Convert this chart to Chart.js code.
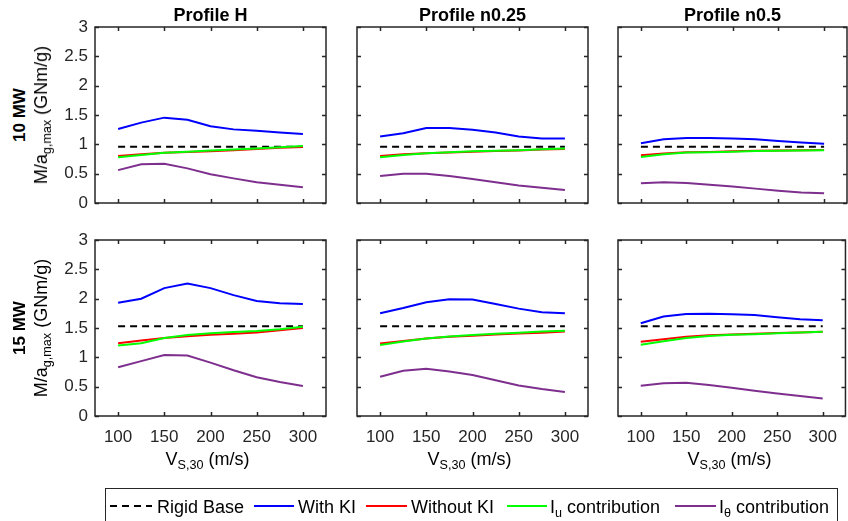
<!DOCTYPE html>
<html><head><meta charset="utf-8">
<script src="https://cdn.jsdelivr.net/npm/chart.js@4.4.1/dist/chart.umd.min.js"></script>
<style>
body{margin:0;background:#fff;}
#fig{position:relative;width:848px;height:521px;overflow:hidden;background:#fff;font-family:"Liberation Sans",Arial,Helvetica,sans-serif;color:#000;}
canvas{position:absolute;}
.t{position:absolute;white-space:nowrap;line-height:20px;font-size:18px;}
.title{font-weight:bold;transform:translateX(-50%);}
.ctr{transform:translateX(-50%);}
.rot{transform:translate(-50%,-50%) rotate(-90deg);}
.bold{font-weight:bold;font-size:17px;}
sub{font-size:70%;vertical-align:baseline;position:relative;top:0.35em;line-height:0;}
#legend{position:absolute;left:105px;top:488px;width:731px;height:44px;border:1.5px solid #262626;background:#fff;}
</style></head>
<body><div id="fig"></div>
<script>
// ---------------- data ----------------
const vs30 = [100, 125, 150, 175, 200, 225, 250, 275, 300];
const xTicks = [100, 150, 200, 250, 300];
const yTicks = [0, 0.5, 1, 1.5, 2, 2.5, 3];

const rowNames = ['10 MW', '15 MW'];
const profileNames = ['Profile H', 'Profile n0.25', 'Profile n0.5'];

// 10 MW
const rigid10H   = [0.96, 0.96, 0.96, 0.96, 0.96, 0.96, 0.96, 0.96, 0.96];
const withKI10H  = [1.26, 1.37, 1.455, 1.42, 1.31, 1.255, 1.23, 1.20, 1.175];
const woKI10H    = [0.80, 0.83, 0.855, 0.87, 0.88, 0.90, 0.92, 0.94, 0.955];
const Iu10H      = [0.78, 0.82, 0.855, 0.875, 0.895, 0.91, 0.93, 0.95, 0.97];
const Ith10H     = [0.56, 0.66, 0.667, 0.59, 0.49, 0.42, 0.355, 0.31, 0.27];

const rigid10n25  = [0.96, 0.96, 0.96, 0.96, 0.96, 0.96, 0.96, 0.96, 0.96];
const withKI10n25 = [1.135, 1.19, 1.28, 1.28, 1.25, 1.20, 1.135, 1.10, 1.10];
const woKI10n25   = [0.80, 0.83, 0.85, 0.86, 0.875, 0.885, 0.895, 0.91, 0.92];
const Iu10n25     = [0.78, 0.82, 0.85, 0.865, 0.88, 0.89, 0.90, 0.915, 0.93];
const Ith10n25    = [0.46, 0.50, 0.50, 0.46, 0.41, 0.355, 0.30, 0.26, 0.22];

const rigid10n5  = [0.96, 0.96, 0.96, 0.96, 0.96, 0.96, 0.96, 0.96, 0.96];
const withKI10n5 = [1.02, 1.085, 1.11, 1.11, 1.10, 1.085, 1.055, 1.03, 1.01];
const woKI10n5   = [0.815, 0.845, 0.865, 0.87, 0.88, 0.89, 0.895, 0.90, 0.905];
const Iu10n5     = [0.785, 0.83, 0.86, 0.865, 0.875, 0.885, 0.89, 0.895, 0.90];
const Ith10n5    = [0.337, 0.354, 0.342, 0.31, 0.28, 0.245, 0.21, 0.18, 0.165];

// 15 MW
const rigid15H   = [1.53, 1.53, 1.53, 1.53, 1.53, 1.53, 1.53, 1.53, 1.53];
const withKI15H  = [1.93, 2.00, 2.18, 2.26, 2.18, 2.06, 1.96, 1.92, 1.91];
const woKI15H    = [1.24, 1.285, 1.33, 1.36, 1.385, 1.40, 1.425, 1.46, 1.50];
const Iu15H      = [1.20, 1.24, 1.33, 1.38, 1.41, 1.43, 1.45, 1.48, 1.52];
const Ith15H     = [0.83, 0.935, 1.04, 1.03, 0.91, 0.78, 0.66, 0.58, 0.51];

const rigid15n25  = [1.53, 1.53, 1.53, 1.53, 1.53, 1.53, 1.53, 1.53, 1.53];
const withKI15n25 = [1.75, 1.84, 1.94, 1.99, 1.985, 1.91, 1.83, 1.77, 1.75];
const woKI15n25   = [1.235, 1.28, 1.32, 1.35, 1.37, 1.39, 1.405, 1.42, 1.44];
const Iu15n25     = [1.21, 1.27, 1.32, 1.355, 1.38, 1.40, 1.42, 1.44, 1.455];
const Ith15n25    = [0.67, 0.77, 0.805, 0.76, 0.70, 0.61, 0.52, 0.46, 0.41];

const rigid15n5  = [1.53, 1.53, 1.53, 1.53, 1.53, 1.53, 1.53, 1.53, 1.53];
const withKI15n5 = [1.58, 1.695, 1.74, 1.745, 1.735, 1.72, 1.685, 1.65, 1.63];
const woKI15n5   = [1.265, 1.31, 1.35, 1.375, 1.39, 1.40, 1.415, 1.425, 1.435];
const Iu15n5     = [1.215, 1.275, 1.33, 1.365, 1.385, 1.395, 1.41, 1.425, 1.435];
const Ith15n5    = [0.516, 0.56, 0.567, 0.53, 0.48, 0.43, 0.385, 0.34, 0.30];

const seriesLabels = ['Rigid Base', 'With KI', 'Without KI', 'I_u contribution', 'I_θ contribution'];
const seriesLegendHTML = ['Rigid Base', 'With KI', 'Without KI', 'I<sub>u</sub> contribution', 'I<sub>θ</sub> contribution'];

// ---------------- styling / layout ----------------
const colors = ['#000000', '#0000ff', '#ff0000', '#00ff00', '#7e2f8e'];
const dashes = [[7, 5], [], [], [], []];
const COLS = [{left: 95, w: 231}, {left: 357, w: 231}, {left: 618, w: 229}];
const ROWS = [{top: 27, h: 176, labels: false}, {top: 240, h: 176, labels: true}];
const YW = 45, PADTOP = 20;
const FONT = '"Liberation Sans", Arial, Helvetica, sans-serif';

const panelData = [
  [[rigid10H, withKI10H, woKI10H, Iu10H, Ith10H],
   [rigid10n25, withKI10n25, woKI10n25, Iu10n25, Ith10n25],
   [rigid10n5, withKI10n5, woKI10n5, Iu10n5, Ith10n5]],
  [[rigid15H, withKI15H, woKI15H, Iu15H, Ith15H],
   [rigid15n25, withKI15n25, woKI15n25, Iu15n25, Ith15n25],
   [rigid15n5, withKI15n5, woKI15n5, Iu15n5, Ith15n5]]
];

const fig = document.getElementById('fig');
function addDiv(html, cls, left, top) {
  const d = document.createElement('div');
  d.className = 't ' + cls;
  d.innerHTML = html;
  d.style.left = left + 'px';
  d.style.top = top + 'px';
  fig.appendChild(d);
  return d;
}

const boxPlugin = {
  id: 'matlabBox',
  afterDatasetsDraw(chart) {
    const {ctx, chartArea: a} = chart;
    const xs = chart.scales.x, ys = chart.scales.y;
    ctx.save();
    ctx.strokeStyle = '#262626';
    ctx.lineWidth = 1.5;
    const L = 4;
    ctx.beginPath();
    xs.ticks.forEach(t => {
      const px = Math.round(xs.getPixelForValue(t.value)) + 0.5;
      ctx.moveTo(px, a.bottom); ctx.lineTo(px, a.bottom - L);
      ctx.moveTo(px, a.top); ctx.lineTo(px, a.top + L);
    });
    ys.ticks.forEach(t => {
      const py = Math.round(ys.getPixelForValue(t.value)) + 0.5;
      ctx.moveTo(a.left, py); ctx.lineTo(a.left + L, py);
      ctx.moveTo(a.right, py); ctx.lineTo(a.right - L, py);
    });
    ctx.stroke();
    ctx.strokeRect(a.left, a.top, a.right - a.left, a.bottom - a.top);
    ctx.restore();
  }
};

Chart.defaults.font.family = FONT;
Chart.defaults.font.size = 17;
Chart.defaults.color = '#262626';

ROWS.forEach((row, r) => {
  COLS.forEach((col, c) => {
    const XH = row.labels ? 40 : 20;
    const rightPad = (c === 2) ? 1 : 3;
    const cv = document.createElement('canvas');
    const W = YW + col.w + rightPad, H = PADTOP + row.h + XH;
    cv.width = W; cv.height = H;
    cv.style.width = W + 'px'; cv.style.height = H + 'px';
    cv.style.left = (col.left - YW) + 'px';
    cv.style.top = (row.top - PADTOP) + 'px';
    fig.appendChild(cv);
    const sets = panelData[r][c];
    new Chart(cv, {
      type: 'line',
      data: {
        datasets: sets.map((vals, k) => ({
          label: seriesLabels[k],
          data: vs30.map((x, i) => ({x: x, y: vals[i]})),
          borderColor: colors[k],
          backgroundColor: colors[k],
          borderDash: dashes[k],
          borderWidth: 2,
          pointRadius: 0,
          tension: 0,
          fill: false,
          order: 5 - k
        }))
      },
      options: {
        responsive: false, animation: false, devicePixelRatio: 1,
        layout: {padding: {top: PADTOP, right: rightPad, left: 0, bottom: 0}},
        plugins: {legend: {display: false}, tooltip: {enabled: false}, title: {display: false}},
        scales: {
          x: {
            type: 'linear', min: 75, max: 325,
            afterBuildTicks: s => { s.ticks = xTicks.map(v => ({value: v})); },
            afterFit: s => { s.height = XH; },
            grid: {display: false, drawTicks: false}, border: {display: false},
            ticks: {display: row.labels, padding: 11, maxRotation: 0, callback: v => String(v)}
          },
          y: {
            type: 'linear', min: 0, max: 3,
            afterBuildTicks: s => { s.ticks = yTicks.map(v => ({value: v})); },
            afterFit: s => { s.width = YW; },
            grid: {display: false, drawTicks: false}, border: {display: false},
            ticks: {display: c === 0, padding: 7, callback: v => String(v)}
          }
        }
      },
      plugins: [boxPlugin]
    });
    if (r === 0) addDiv(profileNames[c], 'title', col.left + col.w / 2, 5);
    if (row.labels) addDiv('V<sub>S,30</sub> (m/s)', 'ctr', col.left + col.w / 2 - 3, 449);
  });
  const cy = row.top + row.h / 2;
  addDiv(rowNames[r], 'rot bold', 20, cy);
  addDiv('M/a<sub>g,max</sub> (GNm/g)', 'rot', 41, cy);
});

// legend
const leg = document.createElement('div');
leg.id = 'legend';
fig.appendChild(leg);
const legLines = [[110, 152], [254, 294], [366, 407], [507, 547], [675, 716]];
const legText = [157, 298, 411, 550, 719];
const svgNS = 'http://www.w3.org/2000/svg';
const svg = document.createElementNS(svgNS, 'svg');
svg.setAttribute('width', 848); svg.setAttribute('height', 521);
svg.style.position = 'absolute'; svg.style.left = '0'; svg.style.top = '0';
fig.appendChild(svg);
seriesLegendHTML.forEach((h, k) => {
  const ln = document.createElementNS(svgNS, 'line');
  ln.setAttribute('x1', legLines[k][0]); ln.setAttribute('x2', legLines[k][1]);
  ln.setAttribute('y1', 506); ln.setAttribute('y2', 506);
  ln.setAttribute('stroke', colors[k]); ln.setAttribute('stroke-width', 2);
  if (dashes[k].length) ln.setAttribute('stroke-dasharray', dashes[k].join(' '));
  svg.appendChild(ln);
  addDiv(h, '', legText[k], 497);
});
</script></body></html>
